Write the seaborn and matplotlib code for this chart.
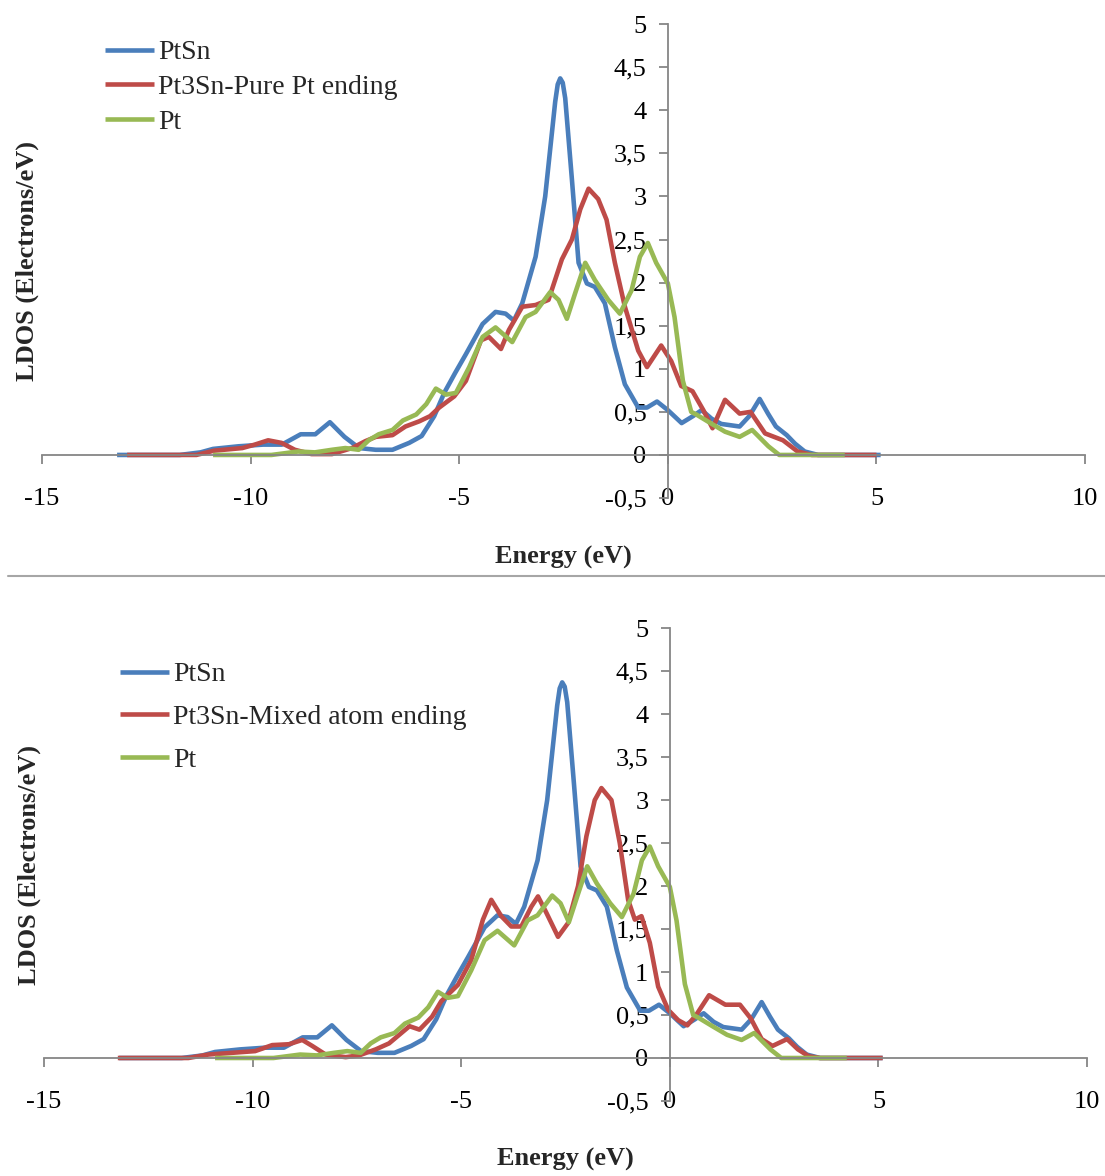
import matplotlib.pyplot as plt
from matplotlib.lines import Line2D
from matplotlib.ticker import FuncFormatter, MultipleLocator
import seaborn as sns

# PtSn LDOS (identical in both panels)
ptsn_energy = [-13.2, -11.7, -11.2, -10.9, -10.3, -9.7, -9.25, -8.8, -8.45, -8.1, -7.75, -7.4,
               -7.0, -6.6, -6.2, -5.9, -5.6, -5.35, -5.1, -4.84, -4.44, -4.13, -3.89, -3.69,
               -3.49, -3.17, -2.94, -2.7, -2.64, -2.58, -2.52, -2.46, -2.3, -2.14, -1.94,
               -1.75, -1.51, -1.27, -1.03, -0.71, -0.5, -0.26, 0.0, 0.33, 0.6, 0.81, 1.05,
               1.28, 1.72, 1.95, 2.2, 2.4, 2.59, 2.85, 3.05, 3.28, 3.6, 5.1]
ptsn_ldos = [0, 0, 0.03, 0.07, 0.1, 0.12, 0.12, 0.24, 0.24, 0.38, 0.21, 0.08,
             0.06, 0.06, 0.14, 0.22, 0.45, 0.73, 0.95, 1.17, 1.52, 1.66, 1.64, 1.56,
             1.76, 2.3, 3.0, 4.1, 4.3, 4.37, 4.32, 4.14, 3.2, 2.23, 1.99,
             1.95, 1.76, 1.25, 0.82, 0.55, 0.55, 0.62, 0.52, 0.37, 0.45, 0.52, 0.42,
             0.36, 0.33, 0.45, 0.65, 0.48, 0.33, 0.23, 0.13, 0.04, 0, 0]

# Pt3Sn - pure Pt ending (top panel)
pure_energy = [-12.96, -11.3, -10.87, -10.2, -9.9, -9.58, -9.26, -8.94, -8.54, -8.05, -7.57,
               -7.25, -7.0, -6.6, -6.29, -5.96, -5.7, -5.48, -5.12, -4.84, -4.48, -4.29,
               -4.0, -3.81, -3.49, -3.17, -2.86, -2.54, -2.3, -2.1, -1.9, -1.67, -1.47,
               -1.27, -1.03, -0.71, -0.5, -0.16, 0.08, 0.32, 0.59, 0.85, 1.07, 1.37, 1.72,
               1.98, 2.33, 2.76, 3.11, 3.45, 5.0]
pure_ldos = [0, 0, 0.05, 0.08, 0.12, 0.17, 0.14, 0.06, 0.01, 0.01, 0.08,
             0.16, 0.21, 0.23, 0.33, 0.39, 0.45, 0.55, 0.68, 0.86, 1.33, 1.37,
             1.23, 1.45, 1.72, 1.74, 1.8, 2.27, 2.5, 2.85, 3.09, 2.97, 2.73,
             2.23, 1.72, 1.21, 1.02, 1.27, 1.09, 0.8, 0.74, 0.52, 0.31, 0.64, 0.48,
             0.5, 0.25, 0.17, 0.04, 0, 0]

# Pt3Sn - mixed atom ending (bottom panel)
mixed_energy = [-13.23, -11.54, -11.06, -10.5, -9.94, -9.53, -9.13, -8.81, -8.57, -8.25, -7.77,
                -7.45, -7.05, -6.73, -6.24, -6.0, -5.7, -5.48, -5.08, -4.76, -4.48, -4.28,
                -4.04, -3.8, -3.56, -3.32, -3.16, -2.96, -2.68, -2.44, -2.2, -2.0, -1.8,
                -1.64, -1.4, -1.2, -1.0, -0.84, -0.68, -0.48, -0.28, -0.04, 0.2, 0.42, 0.63,
                0.94, 1.33, 1.68, 1.94, 2.2, 2.46, 2.81, 3.07, 3.33, 3.6, 5.1]
mixed_ldos = [0, 0, 0.04, 0.06, 0.08, 0.15, 0.16, 0.21, 0.14, 0.04, 0.01,
              0.03, 0.1, 0.17, 0.37, 0.33, 0.48, 0.66, 0.85, 1.14, 1.61, 1.84,
              1.65, 1.53, 1.53, 1.76, 1.88, 1.69, 1.41, 1.57, 2.0, 2.58, 3.0,
              3.14, 3.0, 2.5, 1.84, 1.61, 1.65, 1.34, 0.83, 0.56, 0.44, 0.38, 0.5,
              0.73, 0.62, 0.62, 0.46, 0.22, 0.14, 0.22, 0.1, 0.02, 0, 0]

# Pt LDOS (identical in both panels)
pt_energy = [-10.9, -9.5, -8.86, -8.46, -8.05, -7.73, -7.41, -7.17, -6.93, -6.6, -6.35, -6.03,
             -5.79, -5.56, -5.32, -5.08, -4.76, -4.44, -4.13, -3.73, -3.41, -3.17, -2.82,
             -2.62, -2.42, -2.22, -1.98, -1.75, -1.43, -1.15, -0.87, -0.67, -0.48, -0.28,
             0.0, 0.16, 0.36, 0.56, 0.68, 1.02, 1.37, 1.72, 2.02, 2.41, 2.67, 4.24]
pt_ldos = [0, 0, 0.04, 0.03, 0.06, 0.08, 0.06, 0.17, 0.24, 0.29, 0.4, 0.47,
           0.59, 0.77, 0.7, 0.72, 1.02, 1.37, 1.48, 1.31, 1.6, 1.66, 1.89,
           1.8, 1.58, 1.88, 2.23, 2.03, 1.8, 1.64, 1.91, 2.3, 2.46, 2.23,
           1.99, 1.6, 0.86, 0.5, 0.47, 0.37, 0.27, 0.21, 0.29, 0.1, 0, 0]

BLUE, RED, GREEN = "#4A7EBB", "#BE4B48", "#98B954"
AXIS_GREY = "#868686"
FS = 19

sns.set_theme(style="white")
plt.rcParams["font.family"] = ["Liberation Serif", "DejaVu Serif"]


def comma_fmt(v, pos):
    return f"{v:g}".replace(".", ",")


def draw_panel(ax, series, legend_xy, spacing):
    for energy, ldos, color, name in series:
        sns.lineplot(ax=ax, x=energy, y=ldos, color=color, label=name,
                     linewidth=3.3, estimator=None, sort=False,
                     solid_joinstyle="round", solid_capstyle="butt")

    ax.set_xlim(-15, 10)
    ax.set_ylim(-0.5, 5)
    ax.xaxis.set_major_locator(MultipleLocator(5))
    ax.yaxis.set_major_locator(MultipleLocator(0.5))
    ax.xaxis.set_major_formatter(FuncFormatter(comma_fmt))
    ax.yaxis.set_major_formatter(FuncFormatter(comma_fmt))

    for side in ["top", "right"]:
        ax.spines[side].set_visible(False)
    for side in ["left", "bottom"]:
        ax.spines[side].set_position(("data", 0))
        ax.spines[side].set_color(AXIS_GREY)
        ax.spines[side].set_linewidth(1.3)

    ax.tick_params(axis="both", direction="out", length=6.5, width=1.3,
                   color=AXIS_GREY, labelsize=FS, labelcolor="black")
    ax.tick_params(axis="x", bottom=True, pad=17)
    ax.tick_params(axis="y", left=True, pad=9)

    ax.set_xlabel("Energy (eV)", fontsize=FS, fontweight="bold")
    ax.set_ylabel("LDOS (Electrons/eV)", fontsize=FS, fontweight="bold")
    ax.xaxis.set_label_coords(0.5, -0.1)
    ax.yaxis.set_label_coords(-0.003, 0.5)

    ax.legend(loc="upper left", bbox_to_anchor=legend_xy,
              bbox_transform=ax.figure.transFigure, frameon=False,
              fontsize=20, handlelength=1.75, handletextpad=0.15,
              labelspacing=spacing, borderpad=0, borderaxespad=0)


fig = plt.figure(figsize=(11.05, 11.76), dpi=100)
ax_top = fig.add_axes([0.038, 0.5765, 0.944, 0.403])
ax_bot = fig.add_axes([0.0398, 0.0638, 0.944, 0.402])

draw_panel(ax_top, [(ptsn_energy, ptsn_ldos, BLUE, "PtSn"),
                    (pure_energy, pure_ldos, RED, "Pt3Sn-Pure Pt ending"),
                    (pt_energy, pt_ldos, GREEN, "Pt")],
           (105 / 1105, 1 - 40 / 1176), 0.33)
draw_panel(ax_bot, [(ptsn_energy, ptsn_ldos, BLUE, "PtSn"),
                    (mixed_energy, mixed_ldos, RED, "Pt3Sn-Mixed atom ending"),
                    (pt_energy, pt_ldos, GREEN, "Pt")],
           (120 / 1105, 1 - 662 / 1176), 0.62)

# separator between the two panels
fig.add_artist(Line2D([8 / 1105, 1.0], [1 - 576 / 1176] * 2, transform=fig.transFigure,
                      color="#A6A6A6", linewidth=1.5))

fig.savefig("out.png", dpi=100)
